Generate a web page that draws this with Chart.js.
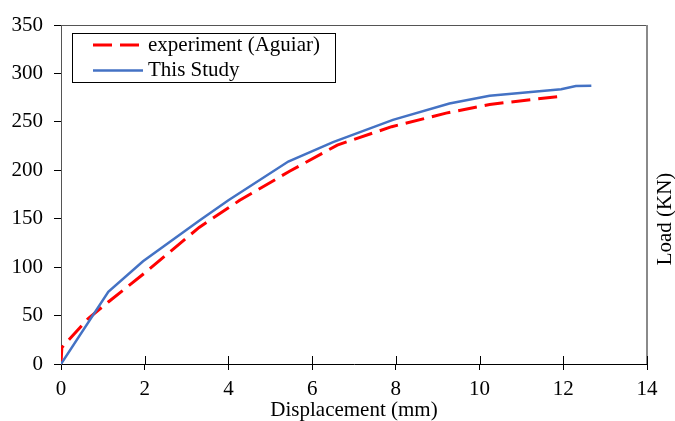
<!DOCTYPE html>
<html>
<head>
<meta charset="utf-8">
<script src="https://cdn.jsdelivr.net/npm/chart.js@4"></script>
<style>
  body { margin: 0; background: #fff; }
  canvas { display: block; }
</style>
</head>
<body>
<canvas id="myChart" width="675" height="421"></canvas>
<script>
// experiment (Aguiar)
const expX = [0, 0.02, 0.65, 1.13, 2.0, 3.3, 4.27, 5.46, 6.6, 7.9, 9.2, 10.24, 11.95];
const expY = [0, 17, 47, 64, 94, 141, 169, 199, 226, 245, 259, 268, 276.5];
// This Study
const studyX = [0, 1.13, 1.96, 3.3, 4.0, 5.43, 6.5, 7.93, 9.28, 10.24, 11.95, 12.3, 12.67];
const studyY = [0, 74.6, 106, 148, 169, 209, 229, 252, 269, 277, 283.6, 287, 287.4];

const xTicks = [0, 2, 4, 6, 8, 10, 12, 14];
const yTicks = [0, 50, 100, 150, 200, 250, 300, 350];

const fontFam = '"Liberation Serif", "Times New Roman", serif';

function toPoints(xs, ys) {
    return xs.map((x, i) => ({ x: x, y: ys[i] }));
}

// frame, inner tick marks, legend box and the right-side y title
const extras = {
    id: 'extras',
    beforeDatasetsDraw(chart) {
        const c = chart.ctx;
        const a = chart.chartArea;
        const xs = chart.scales.x;
        c.save();
        c.strokeStyle = '#555';
        c.lineWidth = 1;
        c.beginPath();
        c.moveTo(a.left, a.top + 0.5);
        c.lineTo(a.right, a.top + 0.5);
        c.stroke();
        c.strokeStyle = '#8a8a8a';
        c.lineWidth = 2;
        c.beginPath();
        c.moveTo(a.right, a.top);
        c.lineTo(a.right, a.bottom);
        c.stroke();
        // x ticks cross the axis
        c.strokeStyle = '#000';
        c.lineWidth = 1;
        xTicks.forEach(v => {
            const px = Math.round(xs.getPixelForValue(v)) + 0.5;
            c.beginPath();
            c.moveTo(px, a.bottom - 8);
            c.lineTo(px, a.bottom);
            c.stroke();
        });
        c.restore();
    },
    afterDraw(chart) {
        const c = chart.ctx;
        c.save();
        // legend
        c.fillStyle = '#fff';
        c.fillRect(72, 33, 263, 49);
        c.strokeStyle = '#000';
        c.lineWidth = 1;
        c.strokeRect(72.5, 33.5, 263, 49);
        const rows = [45, 70.5];
        c.font = '21px ' + fontFam;
        c.textBaseline = 'middle';
        c.textAlign = 'left';
        chart.data.datasets.forEach((ds, i) => {
            c.strokeStyle = ds.borderColor;
            c.lineWidth = ds.borderWidth;
            c.setLineDash(ds.borderDash || []);
            c.beginPath();
            c.moveTo(93, rows[i]);
            c.lineTo(143, rows[i]);
            c.stroke();
            c.setLineDash([]);
            c.fillStyle = '#000';
            c.fillText(ds.label, 148, rows[i]);
        });
        // y title on the right
        c.translate(665, 219);
        c.rotate(-Math.PI / 2);
        c.textAlign = 'center';
        c.fillText('Load (KN)', 0, 0);
        c.restore();
    }
};

new Chart(document.getElementById('myChart'), {
    type: 'line',
    data: {
        datasets: [{
            label: 'experiment (Aguiar)',
            data: toPoints(expX, expY),
            borderColor: '#ff0000',
            borderWidth: 3,
            borderDash: [19, 8],
            pointRadius: 0,
            tension: 0,
            order: 1
        }, {
            label: 'This Study',
            data: toPoints(studyX, studyY),
            borderColor: '#4472c4',
            borderWidth: 2.5,
            pointRadius: 0,
            tension: 0,
            order: 0
        }]
    },
    options: {
        responsive: false,
        animation: false,
        devicePixelRatio: 1,
        layout: { padding: { left: 0, right: 28, top: 25, bottom: 0 } },
        plugins: {
            legend: { display: false },
            tooltip: { enabled: false }
        },
        scales: {
            x: {
                type: 'linear',
                min: 0,
                max: 14,
                afterFit: s => { s.height = 57; },
                afterBuildTicks: s => { s.ticks = xTicks.map(v => ({ value: v })); },
                border: { color: '#000', width: 1 },
                grid: { drawOnChartArea: false, drawTicks: true, tickLength: 6, tickColor: '#000' },
                ticks: { padding: 7, color: '#000', font: { family: fontFam, size: 21 } },
                title: {
                    display: true,
                    text: 'Displacement (mm)',
                    color: '#000',
                    padding: { top: 0, bottom: -2 },
                    font: { family: fontFam, size: 21 }
                }
            },
            y: {
                min: 0,
                max: 350,
                afterFit: s => { s.width = 61; },
                afterBuildTicks: s => { s.ticks = yTicks.map(v => ({ value: v })); },
                border: { color: '#555', width: 1 },
                grid: { drawOnChartArea: false, drawTicks: true, tickLength: 7, tickColor: '#000' },
                ticks: { padding: 11, color: '#000', font: { family: fontFam, size: 21 } }
            }
        }
    },
    plugins: [extras]
});
</script>
</body>
</html>
